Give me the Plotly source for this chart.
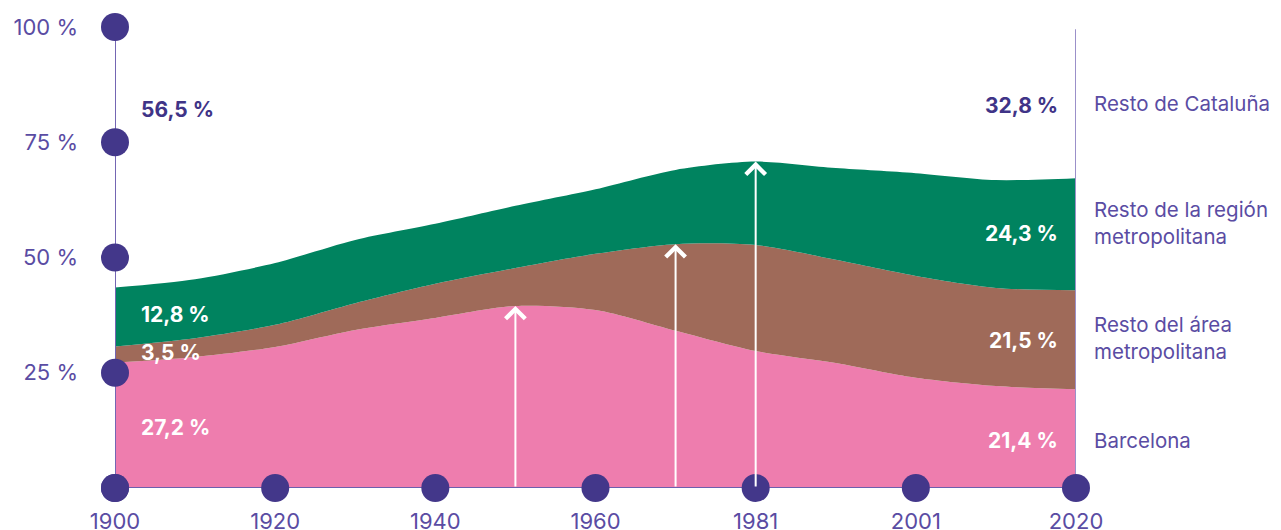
import plotly.graph_objects as go

# ---- data (shares of Catalan population, %) ----
years = [1900, 1910, 1920, 1930, 1940, 1950, 1960, 1970, 1980, 1990, 2000, 2010, 2020]
barcelona = [27.2, 28.4, 30.6, 34.3, 36.9, 39.5, 38.6, 34.1, 29.7, 27.1, 23.9, 22.1, 21.4]
resto_area = [3.5, 4.1, 4.8, 5.8, 7.4, 8.2, 12.2, 18.8, 23.0, 22.4, 22.1, 21.3, 21.5]
resto_region = [12.8, 12.8, 13.4, 13.7, 13.0, 13.5, 14.0, 16.1, 18.1, 19.9, 22.3, 23.4, 24.3]
resto_cat_start, resto_cat_end = 56.5, 32.8

series_names = ["Barcelona", "Resto del área<br>metropolitana",
                "Resto de la región<br>metropolitana", "Resto de Cataluña"]
series_vals = [barcelona, resto_area, resto_region]
colors = ["#ee7dae", "#9f6a59", "#00835f"]

xtick_vals = [1900, 1920, 1940, 1960, 1980, 2000, 2020]
xtick_text = ["1900", "1920", "1940", "1960", "1981", "2001", "2020"]
ytick_vals = [0, 25, 50, 75, 100]
ytick_text = ["", "25 %", "50 %", "75 %", "100 %"]

arrow_years = [1950, 1970, 1980]   # arrows up to the top of 1, 2, 3 stacked bands

# label anchor heights (in %) for the right-hand names
name_y = [10.4, 32.5, 57.5, 83.5]

PURPLE_DOT = "#43378a"
PURPLE_TXT = "#5a4ca3"
PURPLE_DARK = "#3f3487"
FONT = "Inter"

fig = go.Figure()

for name, vals, col in zip(series_names, series_vals, colors):
    fig.add_trace(go.Scatter(
        x=years, y=vals, stackgroup="one", mode="none",
        fillcolor=col, line=dict(shape="spline", smoothing=0.8, width=0),
        name=name, hoverinfo="skip", showlegend=False))

# axis lines as traces (under the dots)
x0, x1 = years[0], years[-1]
fig.add_trace(go.Scatter(x=[x0, x0], y=[ytick_vals[0], ytick_vals[-1]], mode="lines",
                         line=dict(color="#7466b3", width=2), hoverinfo="skip", showlegend=False))
fig.add_trace(go.Scatter(x=[x0, x1], y=[0, 0], mode="lines",
                         line=dict(color="#6c5fae", width=2), hoverinfo="skip", showlegend=False))
fig.add_trace(go.Scatter(x=[x1, x1], y=[0, 99.5], mode="lines",
                         line=dict(color="#9b90c9", width=2), hoverinfo="skip", showlegend=False))

# dots on the axes
fig.add_trace(go.Scatter(x=[x0] * len(ytick_vals), y=ytick_vals, mode="markers",
                         marker=dict(size=28, color=PURPLE_DOT), cliponaxis=False,
                         hoverinfo="skip", showlegend=False))
fig.add_trace(go.Scatter(x=xtick_vals, y=[0] * len(xtick_vals), mode="markers",
                         marker=dict(size=28, color=PURPLE_DOT), cliponaxis=False,
                         hoverinfo="skip", showlegend=False))

# arrows
cum = []
running = [0.0] * len(years)
for vals in series_vals:
    running = [a + b for a, b in zip(running, vals)]
    cum.append(list(running))
for i, yr in enumerate(arrow_years):
    idx = years.index(yr)
    fig.add_annotation(x=yr, y=cum[i][idx], ax=yr, ay=0, xref="x", yref="y",
                       axref="x", ayref="y", text="", showarrow=True,
                       arrowhead=4, arrowsize=1.9, arrowwidth=2, arrowcolor="white")

def fmt(v):
    return f"{v:.1f}".replace(".", ",") + " %"

# value labels left / right
left_vals = [barcelona[0], resto_area[0], resto_region[0], resto_cat_start]
right_vals = [barcelona[-1], resto_area[-1], resto_region[-1], resto_cat_end]
left_y = [13.2, 29.5, 37.7, 82.0]
right_y = [10.2, 32.1, 55.1, 83.0]
for i in range(4):
    col = PURPLE_DARK if i == 3 else "white"
    fig.add_annotation(x=x0, y=left_y[i], text=f"<b>{fmt(left_vals[i])}</b>", showarrow=False,
                       xanchor="left", xshift=24, font=dict(family=FONT, size=21, color=col))
    fig.add_annotation(x=x1, y=right_y[i], text=f"<b>{fmt(right_vals[i])}</b>", showarrow=False,
                       xanchor="right", xshift=-16, font=dict(family=FONT, size=21, color=col))
    fig.add_annotation(x=x1, y=name_y[i], text=series_names[i], showarrow=False,
                       xanchor="left", align="left", xshift=16,
                       font=dict(family=FONT, size=20.5, color=PURPLE_TXT))

fig.update_layout(
    width=1273, height=522,
    margin=dict(l=107, r=205, t=19, b=42, autoexpand=False),
    paper_bgcolor="white", plot_bgcolor="white",
    font=dict(family=FONT, size=22, color=PURPLE_TXT),
    xaxis=dict(range=[x0, x1], tickvals=xtick_vals, ticktext=xtick_text, automargin=False,
               showgrid=False, zeroline=False, showline=False, ticks="",
               ticklabelstandoff=18, tickfont=dict(family=FONT, size=22, color=PURPLE_TXT)),
    yaxis=dict(range=[0, 100], tickvals=ytick_vals, ticktext=ytick_text, automargin=False,
               showgrid=False, zeroline=False, showline=False, ticks="",
               ticklabelstandoff=36, tickfont=dict(family=FONT, size=22, color=PURPLE_TXT)),
)

fig.write_html("out.html")
